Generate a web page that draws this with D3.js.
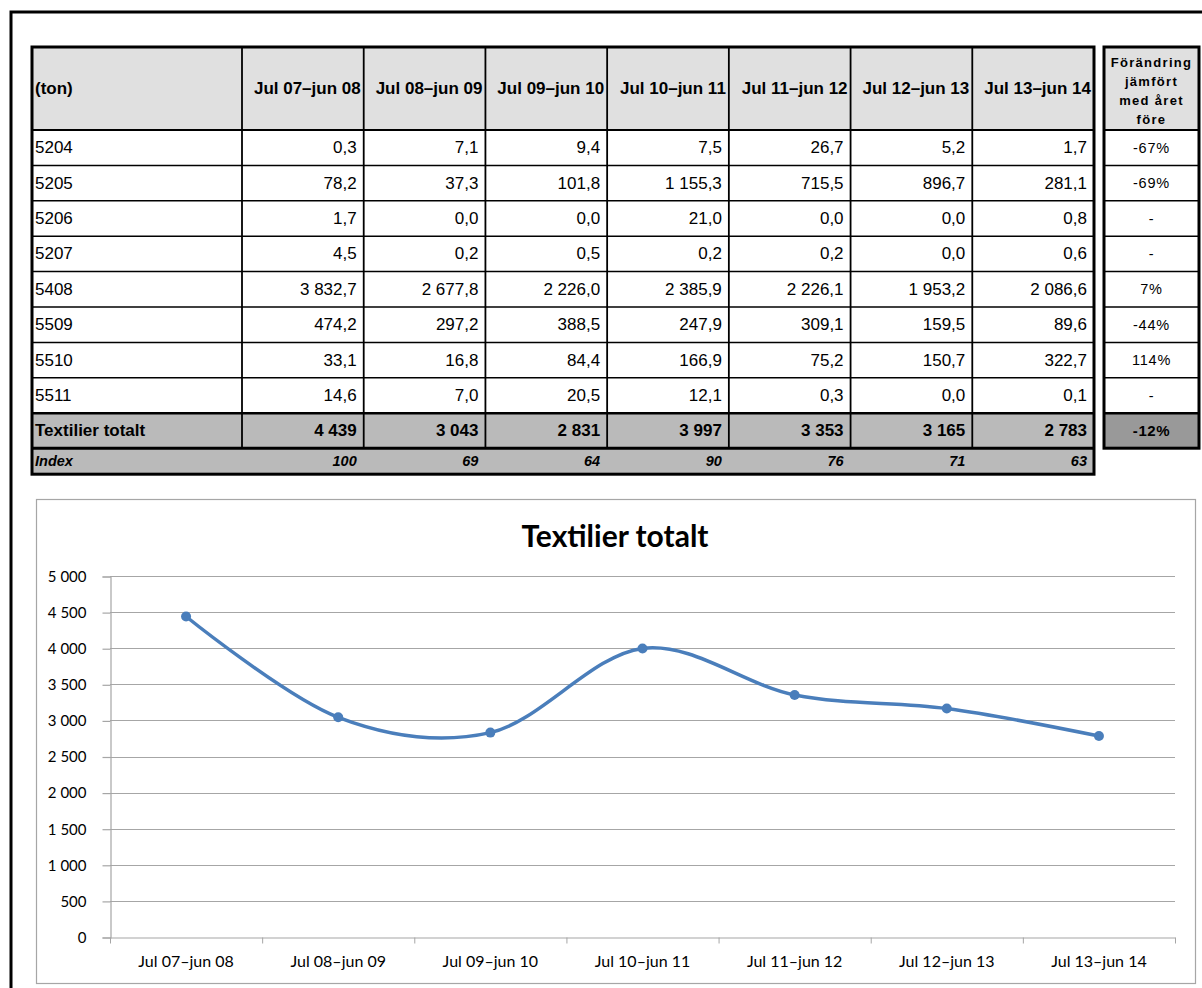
<!DOCTYPE html>
<html>
<head>
<meta charset="utf-8">
<script src="https://cdn.jsdelivr.net/npm/d3@7"></script>
<style>
    html, body { margin: 0; padding: 0; background: #fff; }
    svg { display: block; }
</style>
</head>
<body>
<div id="chart"></div>
<script>
const periods = ["Jul 07–jun 08", "Jul 08–jun 09", "Jul 09–jun 10", "Jul 10–jun 11", "Jul 11–jun 12", "Jul 12–jun 13", "Jul 13–jun 14"];
const codes = ["5204", "5205", "5206", "5207", "5408", "5509", "5510", "5511"];
const v5204 = [0.3, 7.1, 9.4, 7.5, 26.7, 5.2, 1.7];
const v5205 = [78.2, 37.3, 101.8, 1155.3, 715.5, 896.7, 281.1];
const v5206 = [1.7, 0.0, 0.0, 21.0, 0.0, 0.0, 0.8];
const v5207 = [4.5, 0.2, 0.5, 0.2, 0.2, 0.0, 0.6];
const v5408 = [3832.7, 2677.8, 2226.0, 2385.9, 2226.1, 1953.2, 2086.6];
const v5509 = [474.2, 297.2, 388.5, 247.9, 309.1, 159.5, 89.6];
const v5510 = [33.1, 16.8, 84.4, 166.9, 75.2, 150.7, 322.7];
const v5511 = [14.6, 7.0, 20.5, 12.1, 0.3, 0.0, 0.1];
const codeValues = [v5204, v5205, v5206, v5207, v5408, v5509, v5510, v5511];
const totals = [4439, 3043, 2831, 3997, 3353, 3165, 2783];
const indexValues = [100, 69, 64, 90, 76, 71, 63];
const changes = ["-67%", "-69%", "-", "-", "7%", "-44%", "114%", "-"];
const totalChange = "-12%";
const yTicks = [0, 500, 1000, 1500, 2000, 2500, 3000, 3500, 4000, 4500, 5000];

const width = 1202;
const height = 988;

const sv = d3.formatLocale({ decimal: ",", thousands: "\u00a0", grouping: [3] });
const fmtDec = sv.format(",.1f");
const fmtInt = sv.format(",d");

const svg = d3.select("#chart").append("svg")
    .attr("width", width)
    .attr("height", height)
    .attr("viewBox", [0, 0, width, height]);

// outer page frame
svg.append("path")
    .attr("d", `M11,${height} V12 H${width}`)
    .attr("fill", "none")
    .attr("stroke", "#000")
    .attr("stroke-width", 3);

// ---------- table ----------
const tableFont = "'Liberation Sans', Arial, sans-serif";
const tbl = { left: 32, labelRight: 242, right: 1094, top: 47, headBottom: 130 };
const rowH = 35.4;

const colX = d3.scaleBand()
    .domain(periods)
    .range([tbl.labelRight, tbl.right]);

const rowY = d3.scaleBand()
    .domain(codes)
    .range([tbl.headBottom, tbl.headBottom + rowH * codes.length]);

const totalTop = rowY.range()[1];
const totalBottom = totalTop + 35;
const indexBottom = totalBottom + 26;

const t = svg.append("g").attr("font-family", tableFont).attr("fill", "#000");

// backgrounds
t.append("rect").attr("x", tbl.left).attr("y", tbl.top)
    .attr("width", tbl.right - tbl.left).attr("height", tbl.headBottom - tbl.top)
    .attr("fill", "#e0e0e0");
t.append("rect").attr("x", tbl.left).attr("y", totalTop)
    .attr("width", tbl.right - tbl.left).attr("height", indexBottom - totalTop)
    .attr("fill", "#bababa");

// grid lines
const lines = t.append("g").attr("stroke", "#000");
codes.slice(1).forEach((c) => {
    lines.append("line").attr("x1", tbl.left).attr("x2", tbl.right)
        .attr("y1", rowY(c)).attr("y2", rowY(c)).attr("stroke-width", 1.5);
});
lines.append("line").attr("x1", tbl.left).attr("x2", tbl.right)
    .attr("y1", tbl.headBottom).attr("y2", tbl.headBottom).attr("stroke-width", 2);
lines.append("line").attr("x1", tbl.left).attr("x2", tbl.right)
    .attr("y1", totalTop).attr("y2", totalTop).attr("stroke-width", 2.5);
lines.append("line").attr("x1", tbl.left).attr("x2", tbl.right)
    .attr("y1", totalBottom).attr("y2", totalBottom).attr("stroke-width", 3);
periods.forEach((p) => {
    lines.append("line").attr("x1", colX(p)).attr("x2", colX(p))
        .attr("y1", tbl.top).attr("y2", totalBottom).attr("stroke-width", 1.8);
});
t.append("rect").attr("x", tbl.left).attr("y", tbl.top)
    .attr("width", tbl.right - tbl.left).attr("height", indexBottom - tbl.top)
    .attr("fill", "none").attr("stroke", "#000").attr("stroke-width", 3);

// header text
t.append("text").attr("x", tbl.left + 3).attr("y", (tbl.top + tbl.headBottom) / 2)
    .attr("dominant-baseline", "central").attr("font-size", 17).attr("font-weight", 700)
    .text("(ton)");
t.selectAll(".head").data(periods).join("text")
    .attr("x", (d) => colX(d) + colX.bandwidth() - 3)
    .attr("y", (tbl.top + tbl.headBottom) / 2)
    .attr("text-anchor", "end").attr("dominant-baseline", "central")
    .attr("font-size", 17).attr("font-weight", 700)
    .text((d) => d);

// body rows
codes.forEach((c, i) => {
    const cy = rowY(c) + rowY.bandwidth() / 2;
    t.append("text").attr("x", tbl.left + 3).attr("y", cy)
        .attr("dominant-baseline", "central").attr("font-size", 17).text(c);
    t.selectAll(null).data(codeValues[i]).join("text")
        .attr("x", (d, j) => colX(periods[j]) + colX.bandwidth() - 7)
        .attr("y", cy)
        .attr("text-anchor", "end").attr("dominant-baseline", "central")
        .attr("font-size", 17)
        .text((d) => fmtDec(d));
});

// total row
const totalCy = (totalTop + totalBottom) / 2;
t.append("text").attr("x", tbl.left + 3).attr("y", totalCy)
    .attr("dominant-baseline", "central").attr("font-size", 17).attr("font-weight", 700)
    .text("Textilier totalt");
t.selectAll(".tot").data(totals).join("text")
    .attr("x", (d, j) => colX(periods[j]) + colX.bandwidth() - 7)
    .attr("y", totalCy)
    .attr("text-anchor", "end").attr("dominant-baseline", "central")
    .attr("font-size", 17).attr("font-weight", 700)
    .text((d) => fmtInt(d));

// index row
const indexCy = (totalBottom + indexBottom) / 2;
t.append("text").attr("x", tbl.left + 3).attr("y", indexCy)
    .attr("dominant-baseline", "central").attr("font-size", 14.5)
    .attr("font-weight", 700).attr("font-style", "italic")
    .text("Index");
t.selectAll(".idx").data(indexValues).join("text")
    .attr("x", (d, j) => colX(periods[j]) + colX.bandwidth() - 7)
    .attr("y", indexCy)
    .attr("text-anchor", "end").attr("dominant-baseline", "central")
    .attr("font-size", 14.5).attr("font-weight", 700).attr("font-style", "italic")
    .text((d) => d);

// change column
const ch = { left: 1104, right: 1199 };
const chCx = (ch.left + ch.right) / 2;
t.append("rect").attr("x", ch.left).attr("y", tbl.top)
    .attr("width", ch.right - ch.left).attr("height", tbl.headBottom - tbl.top)
    .attr("fill", "#e0e0e0");
t.append("rect").attr("x", ch.left).attr("y", totalTop)
    .attr("width", ch.right - ch.left).attr("height", totalBottom - totalTop)
    .attr("fill", "#999999");
const chLines = t.append("g").attr("stroke", "#000");
codes.forEach((c) => {
    chLines.append("line").attr("x1", ch.left).attr("x2", ch.right)
        .attr("y1", rowY(c)).attr("y2", rowY(c))
        .attr("stroke-width", c === codes[0] ? 2 : 1.5);
});
chLines.append("line").attr("x1", ch.left).attr("x2", ch.right)
    .attr("y1", totalTop).attr("y2", totalTop).attr("stroke-width", 2.5);
t.append("rect").attr("x", ch.left).attr("y", tbl.top)
    .attr("width", ch.right - ch.left).attr("height", totalBottom - tbl.top)
    .attr("fill", "none").attr("stroke", "#000").attr("stroke-width", 3);

const headLines = ["Förändring", "jämfört", "med året", "före"];
t.selectAll(".chhead").data(headLines).join("text")
    .attr("x", chCx)
    .attr("y", (d, i) => 62 + i * 19)
    .attr("text-anchor", "middle").attr("dominant-baseline", "central")
    .attr("font-size", 13).attr("font-weight", 700).attr("letter-spacing", 1.3)
    .text((d) => d);
t.selectAll(".chv").data(changes).join("text")
    .attr("x", chCx)
    .attr("y", (d, i) => rowY(codes[i]) + rowY.bandwidth() / 2)
    .attr("text-anchor", "middle").attr("dominant-baseline", "central")
    .attr("font-size", 14.5).attr("letter-spacing", 0.8)
    .text((d) => d);
t.append("text").attr("x", chCx).attr("y", totalCy)
    .attr("text-anchor", "middle").attr("dominant-baseline", "central")
    .attr("font-size", 15).attr("font-weight", 700).attr("letter-spacing", 0.6)
    .text(totalChange);

// ---------- line chart ----------
const chartFont = "Lato, 'Open Sans', sans-serif";
const box = { left: 36, top: 499, right: 1195, bottom: 983 };
const plot = { left: 110, right: 1175, top: 576, bottom: 937 };

const c = svg.append("g").attr("font-family", chartFont);

c.append("rect")
    .attr("x", box.left + 0.5).attr("y", box.top + 0.5)
    .attr("width", box.right - box.left).attr("height", box.bottom - box.top)
    .attr("fill", "#fff").attr("stroke", "#a6a6a6").attr("stroke-width", 1.2);

c.append("text")
    .attr("x", 615)
    .attr("y", 535)
    .attr("text-anchor", "middle").attr("dominant-baseline", "central")
    .attr("font-size", 30).attr("font-weight", 700).attr("fill", "#000")
    .text("Textilier totalt");

const x = d3.scaleBand()
    .domain(periods)
    .range([plot.left, plot.right]);

const y = d3.scaleLinear()
    .domain([0, 5000])
    .range([plot.bottom, plot.top]);

// gridlines
c.append("g")
    .selectAll("line")
    .data(yTicks.slice(1))
    .join("line")
    .attr("x1", plot.left).attr("x2", plot.right)
    .attr("y1", (d) => Math.round(y(d)) + 0.5).attr("y2", (d) => Math.round(y(d)) + 0.5)
    .attr("stroke", "#a6a6a6").attr("stroke-width", 1.2);

const yAxis = c.append("g")
    .attr("transform", `translate(${plot.left + 0.5}, 0.5)`)
    .call(d3.axisLeft(y).tickValues(yTicks).tickSize(8).tickPadding(16)
        .tickFormat((d) => fmtInt(d)));
yAxis.selectAll("text").attr("font-size", 15).attr("fill", "#000").attr("font-family", chartFont);

const xAxis = c.append("g")
    .attr("transform", `translate(0, ${Math.round(plot.bottom) + 0.5})`)
    .call(d3.axisBottom(x).tickSize(0).tickPadding(18));
xAxis.selectAll("text").attr("font-size", 16).attr("fill", "#000").attr("font-family", chartFont);
// tick marks on band edges
xAxis.append("g").selectAll("line")
    .data(periods.concat([null]))
    .join("line")
    .attr("x1", (d) => (d === null ? plot.right : x(d)) + 0.5)
    .attr("x2", (d) => (d === null ? plot.right : x(d)) + 0.5)
    .attr("y1", 0).attr("y2", 6)
    .attr("stroke", "#a6a6a6");

c.selectAll(".domain, .tick line").attr("stroke", "#a6a6a6").attr("stroke-width", 1.2);

const pts = totals.map((v, i) => ({ p: periods[i], v }));
const line = d3.line()
    .x((d) => x(d.p) + x.bandwidth() / 2)
    .y((d) => y(d.v))
    .curve(d3.curveCardinal.tension(0));

c.append("path")
    .datum(pts)
    .attr("fill", "none")
    .attr("stroke", "#4a7ebb")
    .attr("stroke-width", 3.5)
    .attr("d", line);

c.selectAll(".pt").data(pts).join("circle")
    .attr("cx", (d) => x(d.p) + x.bandwidth() / 2)
    .attr("cy", (d) => y(d.v))
    .attr("r", 5)
    .attr("fill", "#4a7ebb");
</script>
</body>
</html>
